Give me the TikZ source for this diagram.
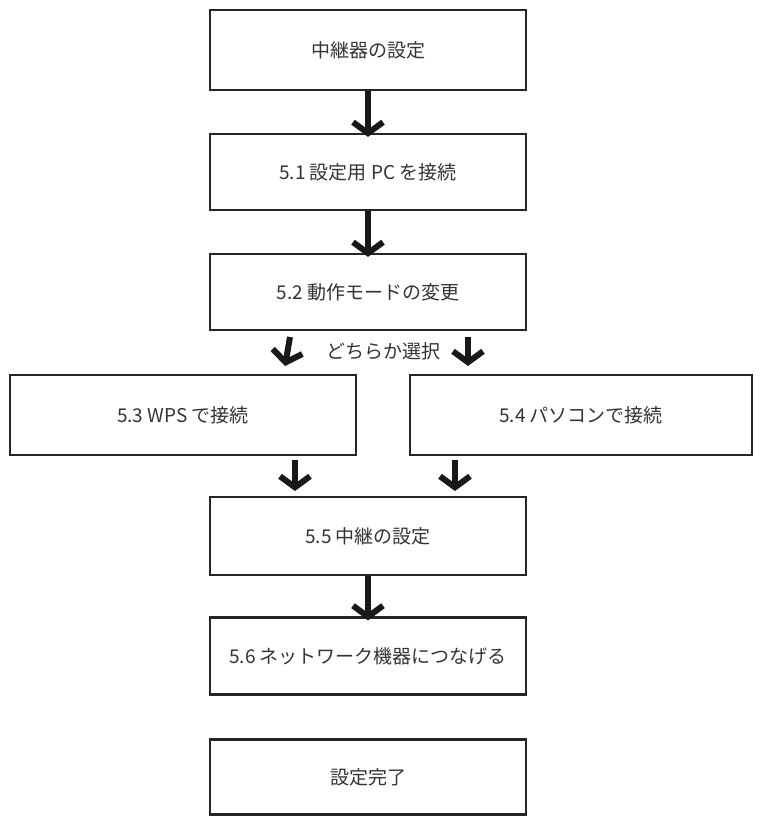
\documentclass[tikz,border=0pt]{standalone}
\usepackage{fontspec}
\setmainfont{Noto Sans CJK JP}
\usetikzlibrary{arrows.meta}
\begin{document}
\begin{tikzpicture}[x=1pt,y=-1pt,
  box/.style={draw=black!85,line width=2.2pt,rectangle,inner sep=0pt,font=\fontsize{19}{22}\selectfont,text=black!80},
  arr/.style={line width=6pt,draw=black!90,-{Straight Barb[length=11pt,width=30pt,line width=6pt]}}]
\useasboundingbox (0,0) rectangle (765,820);
\node[box,minimum width=316,minimum height=80] (b0) at (368,50) {中継器の設定};
\node[box,minimum width=316,minimum height=76] (b1) at (368,172) {5.1 設定用 PC を接続};
\node[box,minimum width=316,minimum height=76] (b2) at (368,292) {5.2 動作モードの変更};
\node[box,minimum width=346,minimum height=80] (b3) at (183,415) {5.3 WPS で接続};
\node[box,minimum width=342,minimum height=80] (b4) at (581,415) {5.4 パソコンで接続};
\node[box,minimum width=316,minimum height=78] (b5) at (368,536) {5.5 中継の設定};
\node[box,minimum width=316,minimum height=77] (b6) at (368,656) {5.6 ネットワーク機器につなげる};
\node[box,minimum width=316,minimum height=75] (b7) at (368,777) {設定完了};
\node[font=\fontsize{19}{22}\selectfont,text=black!80] (sel) at (383,351) {どちらか選択};
\coordinate (p1) at (290,337); \coordinate (p2) at (468,337);
\coordinate (p3) at (295,460); \coordinate (p4) at (455,460);
\draw[arr] (b0.south) -- ([yshift=-4]b1.north);
\draw[arr] (b1.south) -- ([yshift=-4]b2.north);
\draw[arr] (p1) -- (285,366);
\draw[arr] (p2) -- (468,366);
\draw[arr] (p3) -- (295,491);
\draw[arr] (p4) -- (455,491);
\draw[arr] (b5.south) -- ([yshift=-4]b6.north);
\end{tikzpicture}
\end{document}
